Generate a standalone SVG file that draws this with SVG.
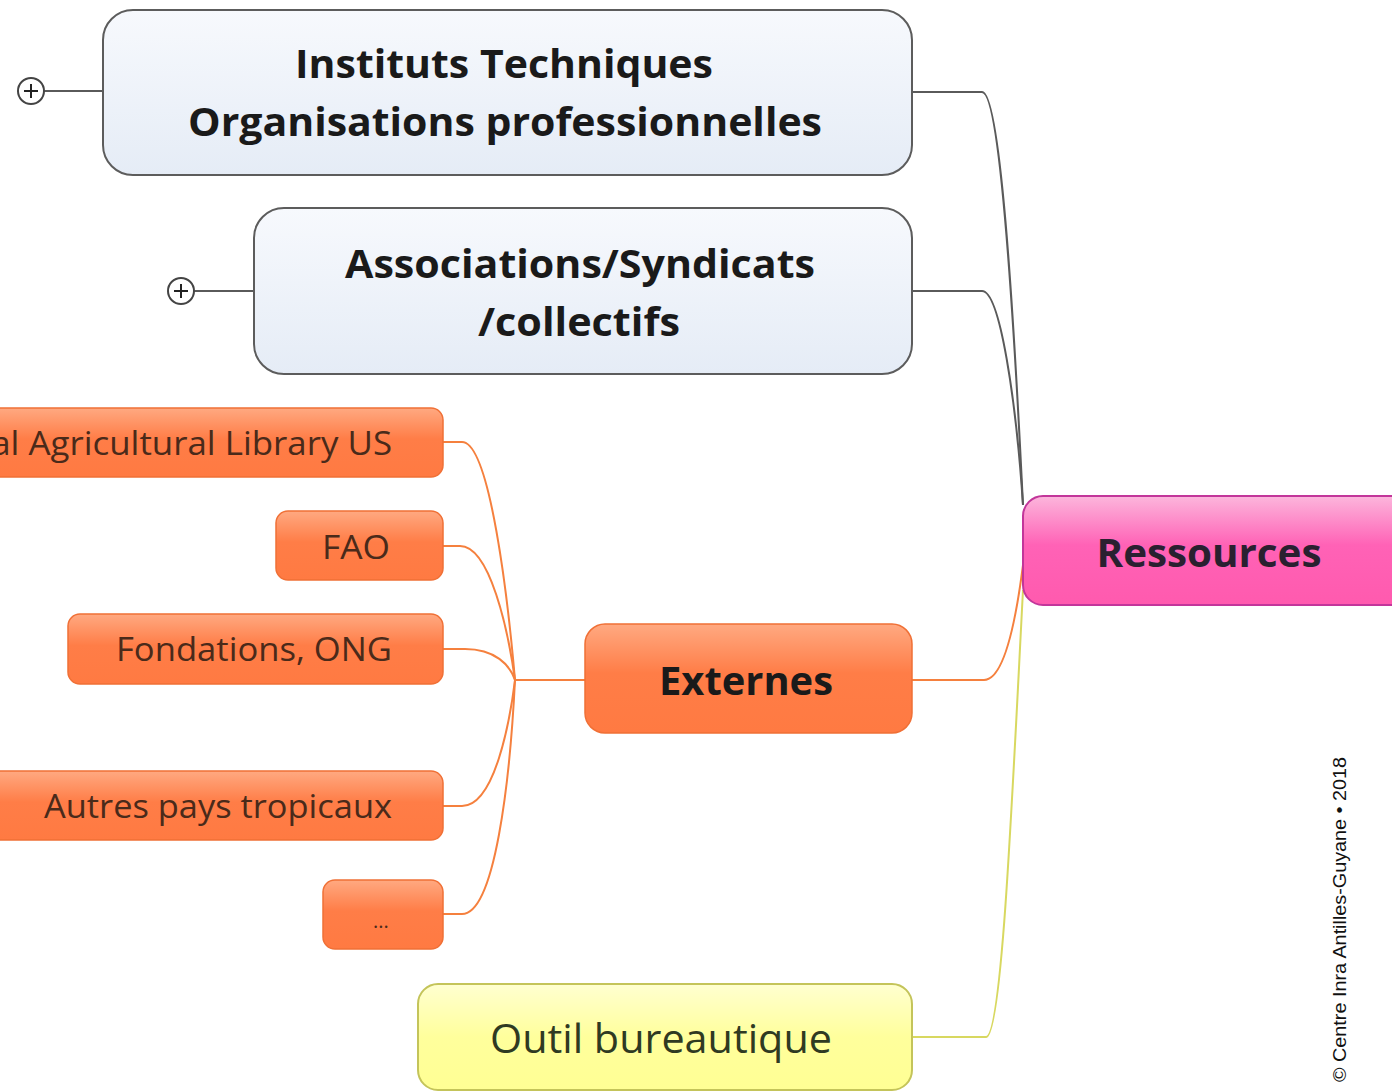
<svg xmlns="http://www.w3.org/2000/svg" width="1392" height="1092" viewBox="0 0 1392 1092">
<defs>
<linearGradient id="gGray" x1="0" y1="0" x2="0" y2="1"><stop offset="0" stop-color="#f7f9fd"/><stop offset="1" stop-color="#e5ecf6"/></linearGradient>
<linearGradient id="gOrange" x1="0" y1="0" x2="0" y2="1"><stop offset="0" stop-color="#ffa981"/><stop offset="0.45" stop-color="#ff7d47"/><stop offset="1" stop-color="#ff7a42"/></linearGradient>
<linearGradient id="gPink" x1="0" y1="0" x2="0" y2="1"><stop offset="0" stop-color="#fcb6dc"/><stop offset="0.45" stop-color="#ff62b6"/><stop offset="1" stop-color="#ff5aae"/></linearGradient>
<linearGradient id="gYellow" x1="0" y1="0" x2="0" y2="1"><stop offset="0" stop-color="#ffffd0"/><stop offset="0.5" stop-color="#ffff9c"/><stop offset="1" stop-color="#ffff94"/></linearGradient>
</defs>
<style>
.gray{fill:url(#gGray);stroke:#5c5c5c;stroke-width:2}
.orange{fill:url(#gOrange);stroke:#f07036;stroke-width:1.5}
.pink{fill:url(#gPink);stroke:#c2369a;stroke-width:2}
.yellow{fill:url(#gYellow);stroke:#c4c45a;stroke-width:2}
.t{font-family:"Open Sans","Noto Sans","DejaVu Sans",sans-serif}
.big{font-size:40px;font-weight:bold;fill:#1a1a1a}
.ch{font-size:33px;fill:#4a2a1a}
.con{fill:none;stroke-width:2}
.cg{stroke:#5a5a5a}
.co{stroke:#f5803e}
.cy{stroke:#d8d860}
</style>
<g id="connectors">
<path class="con cg" d="M912,92 H982 C1000,92 1013,300 1023,505"/>
<path class="con cg" d="M912,291 H982 C1000,291 1016,400 1023,505"/>
<path class="con co" d="M912,680 H984 C1004,680 1016,620 1023,565"/>
<path class="con cy" d="M912,1037 H986 C1002,1037 1012,800 1023,590"/>
<path class="con co" d="M443,442 H462 C490,442 508,600 515,680"/>
<path class="con co" d="M443,546 H460 C490,546 508,630 515,680"/>
<path class="con co" d="M443,649 H465 C495,649 510,665 515,680"/>
<path class="con co" d="M443,806 H462 C495,806 510,720 515,680"/>
<path class="con co" d="M443,914 H462 C495,914 510,780 515,680"/>
<path class="con co" d="M515,680 H585"/>
<path class="con cg" d="M44,91 H103"/>
<path class="con cg" d="M194,291 H254"/>
</g>
<g id="expander1"><circle cx="31" cy="91" r="13" fill="#fff" stroke="#444" stroke-width="2"/><path d="M24,91 H38 M31,84 V98" stroke="#222" stroke-width="2"/></g>
<g id="expander2"><circle cx="181" cy="291" r="13" fill="#fff" stroke="#444" stroke-width="2"/><path d="M174,291 H188 M181,284 V298" stroke="#222" stroke-width="2"/></g>
<g id="instituts">
<rect class="gray" x="103" y="10" width="809" height="165" rx="30"/>
<text class="t big" x="504" y="78" text-anchor="middle" textLength="418" lengthAdjust="spacingAndGlyphs">Instituts Techniques</text>
<text class="t big" x="505" y="136" text-anchor="middle" textLength="634" lengthAdjust="spacingAndGlyphs">Organisations professionnelles</text>
</g>
<g id="associations">
<rect class="gray" x="254" y="208" width="658" height="166" rx="30"/>
<text class="t big" x="580" y="278" text-anchor="middle" textLength="470" lengthAdjust="spacingAndGlyphs">Associations/Syndicats</text>
<text class="t big" x="579" y="336" text-anchor="middle" textLength="202" lengthAdjust="spacingAndGlyphs">/collectifs</text>
</g>
<g id="ressources">
<rect class="pink" x="1023" y="496" width="390" height="109" rx="20"/>
<text class="t big" x="1209" y="567" text-anchor="middle" textLength="225" lengthAdjust="spacingAndGlyphs" fill="#2a2030" style="fill:#2a2030">Ressources</text>
</g>
<g id="externes">
<rect class="orange" x="585" y="624" width="327" height="109" rx="20"/>
<text class="t big" x="746" y="695" text-anchor="middle" textLength="174" lengthAdjust="spacingAndGlyphs">Externes</text>
</g>
<g id="outil">
<rect class="yellow" x="418" y="984" width="494" height="106" rx="20"/>
<text class="t" x="661" y="1053" text-anchor="middle" font-size="40" fill="#2f3a22" textLength="342" lengthAdjust="spacingAndGlyphs">Outil bureautique</text>
</g>
<g id="library">
<rect class="orange" x="-200" y="408" width="643" height="69" rx="12"/>
<text class="t ch" x="392" y="455" text-anchor="end" textLength="510" lengthAdjust="spacingAndGlyphs">National Agricultural Library US</text>
</g>
<g id="fao">
<rect class="orange" x="276" y="511" width="167" height="69" rx="12"/>
<text class="t ch" x="390" y="559" text-anchor="end" textLength="68" lengthAdjust="spacingAndGlyphs">FAO</text>
</g>
<g id="fondations">
<rect class="orange" x="68" y="614" width="375" height="70" rx="12"/>
<text class="t ch" x="392" y="661" text-anchor="end" textLength="276" lengthAdjust="spacingAndGlyphs">Fondations, ONG</text>
</g>
<g id="autres">
<rect class="orange" x="-20" y="771" width="463" height="69" rx="12"/>
<text class="t ch" x="392" y="818" text-anchor="end" textLength="348" lengthAdjust="spacingAndGlyphs">Autres pays tropicaux</text>
</g>
<g id="etc">
<rect class="orange" x="323" y="880" width="120" height="69" rx="12"/>
<text class="t" x="381" y="928" text-anchor="middle" font-size="20" fill="#4a2a1a">...</text>
</g>
<text x="1346" y="1082" transform="rotate(-90 1346 1082)" font-family="'Liberation Sans','DejaVu Sans',sans-serif" font-size="18" fill="#111" textLength="325" lengthAdjust="spacingAndGlyphs">© Centre Inra Antilles-Guyane • 2018</text>
</svg>
